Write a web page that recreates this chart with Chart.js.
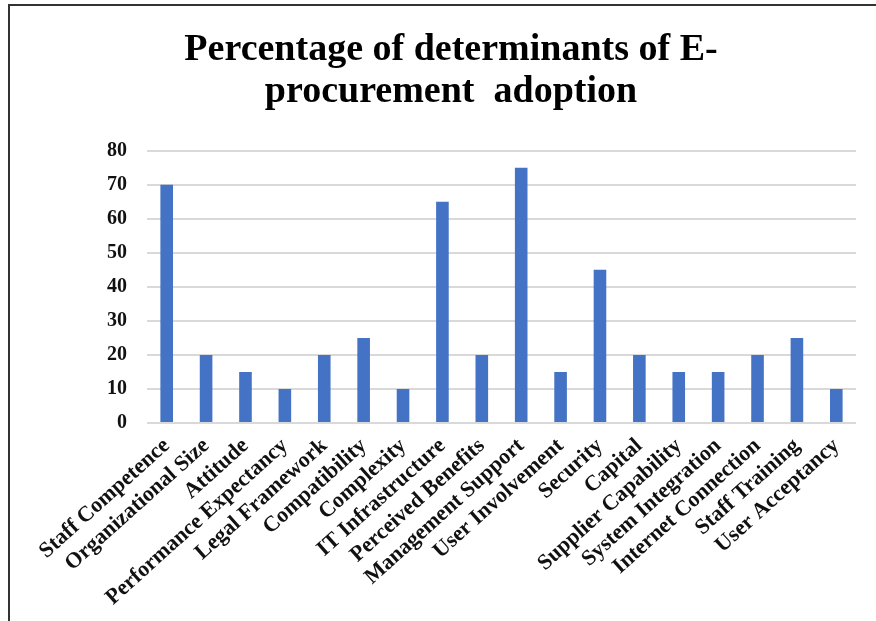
<!DOCTYPE html>
<html>
<head>
<meta charset="utf-8">
<script src="https://cdn.jsdelivr.net/npm/chart.js@4.4.1/dist/chart.umd.min.js"></script>
<style>
  html, body { margin: 0; padding: 0; background: #fff; overflow: hidden; }
  #frame { position: absolute; left: 8px; top: 4px; width: 900px; height: 700px; border: 2px solid #333; }
  #chart { position: absolute; left: 0; top: 0; }
</style>
</head>
<body>
<div id="frame"></div>
<canvas id="chart" width="876" height="621"></canvas>
<script>
// determinants and their percentages
const categories = [
  "Staff Competence", "Organizational Size", "Attitude", "Performance Expectancy",
  "Legal Framework", "Compatibility", "Complexity", "IT Infrastructure",
  "Perceived Benefits", "Management Support", "User Involvement", "Security",
  "Capital", "Supplier Capability", "System Integration", "Internet Connection",
  "Staff Training", "User Acceptancy"
];
const percentages = [70, 20, 15, 10, 20, 25, 10, 65, 20, 75, 15, 45, 20, 15, 15, 20, 25, 10];
const titleLines = ["Percentage of determinants of E-", "procurement  adoption"];

const serif = "'Times New Roman', 'Liberation Serif', serif";

var ctx = document.getElementById('chart');
var chart = new Chart(ctx, {
  type: 'bar',
  data: {
    labels: categories,
    datasets: [{
      data: percentages,
      backgroundColor: '#4472C4',
      barPercentage: 0.32,
      categoryPercentage: 1
    }]
  },
  options: {
    responsive: false,
    animation: false,
    layout: { padding: { left: 46, right: 20, top: 0, bottom: 0 } },
    plugins: {
      legend: { display: false },
      tooltip: { enabled: false },
      title: {
        display: true,
        text: titleLines,
        color: '#000',
        font: { family: serif, size: 38, weight: 'bold', lineHeight: 1.1 },
        padding: { top: 29, bottom: 38 }
      }
    },
    scales: {
      x: {
        grid: { display: false },
        border: { display: false },
        ticks: {
          autoSkip: false,
          minRotation: 42,
          maxRotation: 42,
          padding: 2,
          color: '#111',
          font: { family: serif, size: 22, weight: 'bold' }
        },
        afterFit: function (scale) { scale.height = 198; }
      },
      y: {
        min: 0,
        max: 80,
        ticks: {
          stepSize: 10,
          padding: 20,
          color: '#111',
          font: { family: serif, size: 20, weight: 'bold' }
        },
        grid: { color: '#d9d9d9', lineWidth: 2, drawTicks: false },
        border: { display: false },
        afterFit: function (scale) { scale.width = 101; }
      }
    }
  }
});
</script>
</body>
</html>
